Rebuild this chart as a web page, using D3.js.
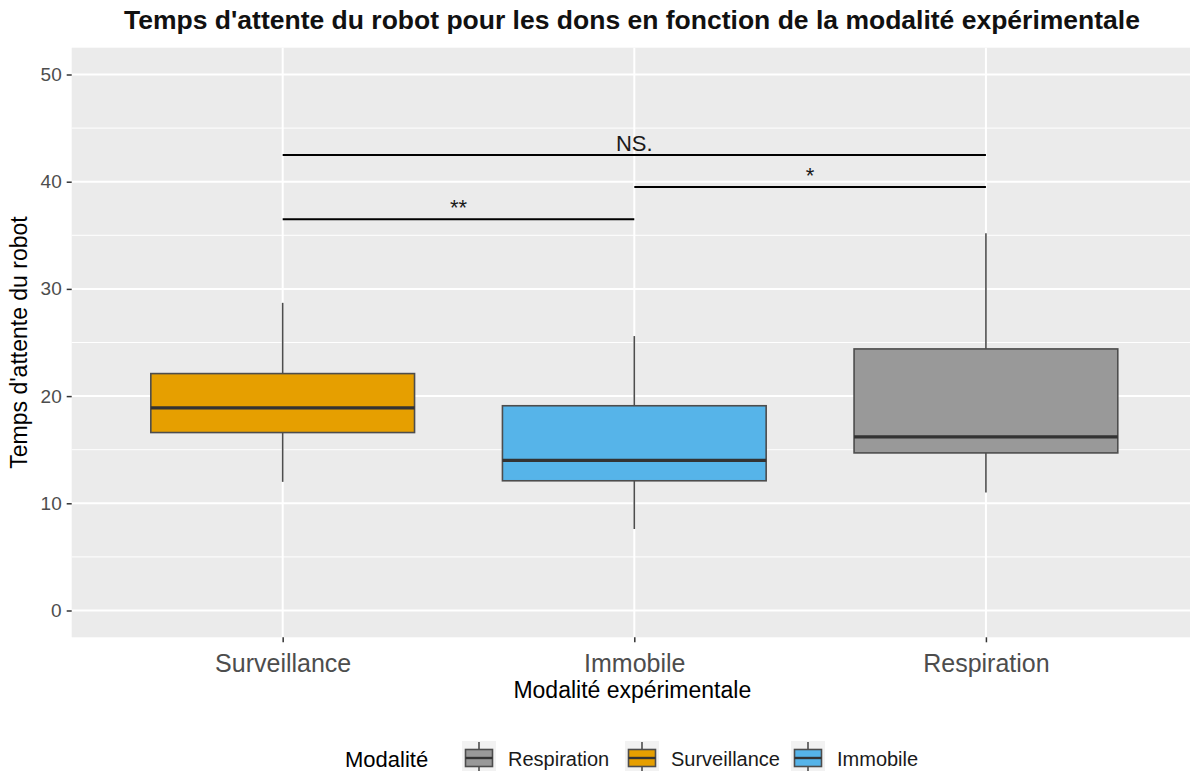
<!DOCTYPE html>
<html>
<head>
<meta charset="utf-8">
<script src="https://cdn.jsdelivr.net/npm/d3@7"></script>
<style>
  body { margin: 0; background: #ffffff; }
  text { font-family: "Liberation Sans", Arial, sans-serif; }
</style>
</head>
<body>
<svg id="chart" width="1190" height="771"></svg>
<script>
// Box statistics per experimental condition (waiting time of the robot)
const categories   = ["Surveillance", "Immobile", "Respiration"];
const fillColors   = ["#E69F00", "#56B4E9", "#999999"];
const whiskerLow   = [12.0, 7.6, 11.0];
const quartile1    = [16.6, 12.1, 14.7];
const medians      = [18.9, 14.0, 16.2];
const quartile3    = [22.1, 19.1, 24.4];
const whiskerHigh  = [28.7, 25.6, 35.2];

// Axis ticks
const yMajorTicks = [0, 10, 20, 30, 40, 50];
const yMinorTicks = [5, 15, 25, 35, 45];

// Pairwise comparisons drawn above the boxes
const compFrom   = ["Surveillance", "Immobile", "Surveillance"];
const compTo     = ["Immobile", "Respiration", "Respiration"];
const compY      = [36.5, 39.5, 42.5];
const compLabel  = ["**", "*", "NS."];

// Legend entries, in the order they are listed
const legendOrder = ["Respiration", "Surveillance", "Immobile"];

const svg = d3.select("#chart");
const panel = { left: 71.7, right: 1196.9, top: 47.7, bottom: 637.3 };

const x = d3.scalePoint()
  .domain(categories)
  .range([panel.left, panel.right])
  .padding(0.6);

const y = d3.scaleLinear()
  .domain([-2.5, 52.5])
  .range([panel.bottom, panel.top]);

const colorOf = d3.scaleOrdinal().domain(categories).range(fillColors);
const boxWidth = x.step() * 0.75;

// Panel background
svg.append("rect")
  .attr("x", panel.left).attr("y", panel.top)
  .attr("width", panel.right - panel.left)
  .attr("height", panel.bottom - panel.top)
  .attr("fill", "#ebebeb");

// Grid lines
const grid = svg.append("g");
grid.selectAll(".minor").data(yMinorTicks).join("line")
  .attr("x1", panel.left).attr("x2", panel.right)
  .attr("y1", d => y(d)).attr("y2", d => y(d))
  .attr("stroke", "#ffffff").attr("stroke-width", 1);
grid.selectAll(".major").data(yMajorTicks).join("line")
  .attr("x1", panel.left).attr("x2", panel.right)
  .attr("y1", d => y(d)).attr("y2", d => y(d))
  .attr("stroke", "#ffffff").attr("stroke-width", 2);
grid.selectAll(".vmajor").data(categories).join("line")
  .attr("x1", d => x(d)).attr("x2", d => x(d))
  .attr("y1", panel.top).attr("y2", panel.bottom)
  .attr("stroke", "#ffffff").attr("stroke-width", 2);

// Boxplots
const boxes = svg.append("g")
  .selectAll("g")
  .data(categories.map((c, i) => ({
    cat: c, lo: whiskerLow[i], q1: quartile1[i], med: medians[i],
    q3: quartile3[i], hi: whiskerHigh[i]
  })))
  .join("g");

boxes.append("line")
  .attr("x1", d => x(d.cat)).attr("x2", d => x(d.cat))
  .attr("y1", d => y(d.hi)).attr("y2", d => y(d.q3))
  .attr("stroke", "#4d4d4d").attr("stroke-width", 1.6);
boxes.append("line")
  .attr("x1", d => x(d.cat)).attr("x2", d => x(d.cat))
  .attr("y1", d => y(d.q1)).attr("y2", d => y(d.lo))
  .attr("stroke", "#4d4d4d").attr("stroke-width", 1.6);
boxes.append("rect")
  .attr("x", d => x(d.cat) - boxWidth / 2)
  .attr("width", boxWidth)
  .attr("y", d => y(d.q3))
  .attr("height", d => y(d.q1) - y(d.q3))
  .attr("fill", d => colorOf(d.cat))
  .attr("stroke", "#4d4d4d").attr("stroke-width", 1.6);
boxes.append("line")
  .attr("x1", d => x(d.cat) - boxWidth / 2).attr("x2", d => x(d.cat) + boxWidth / 2)
  .attr("y1", d => y(d.med)).attr("y2", d => y(d.med))
  .attr("stroke", "#333333").attr("stroke-width", 3.2);

// Significance brackets
const comps = compLabel.map((l, i) => ({ a: compFrom[i], b: compTo[i], v: compY[i], label: l }));
const sig = svg.append("g").selectAll("g").data(comps).join("g");
sig.append("line")
  .attr("x1", d => x(d.a)).attr("x2", d => x(d.b))
  .attr("y1", d => y(d.v)).attr("y2", d => y(d.v))
  .attr("stroke", "#000000").attr("stroke-width", 2);
sig.append("text")
  .attr("x", d => (x(d.a) + x(d.b)) / 2)
  .attr("y", d => y(d.v) - 4)
  .attr("text-anchor", "middle")
  .attr("font-size", 22)
  .attr("fill", "#1a1a1a")
  .text(d => d.label);

// Y axis
const yAxis = svg.append("g")
  .attr("transform", `translate(${panel.left},0)`)
  .call(d3.axisLeft(y).tickValues(yMajorTicks).tickSize(5).tickPadding(5));
yAxis.select(".domain").remove();
yAxis.selectAll(".tick line").attr("stroke", "#333333").attr("stroke-width", 1.5);
yAxis.selectAll(".tick text")
  .attr("fill", "#4d4d4d").attr("font-size", 19)
  .style("font-family", "'Liberation Sans', Arial, sans-serif");

// X axis
const xAxis = svg.append("g")
  .attr("transform", `translate(0,${panel.bottom})`)
  .call(d3.axisBottom(x).tickSize(5).tickPadding(12));
xAxis.select(".domain").remove();
xAxis.selectAll(".tick line").attr("stroke", "#333333").attr("stroke-width", 1.5);
xAxis.selectAll(".tick text")
  .attr("fill", "#4d4d4d").attr("font-size", 25)
  .style("font-family", "'Liberation Sans', Arial, sans-serif");

// Axis titles
svg.append("text")
  .attr("x", (panel.left + panel.right) / 2 - 2)
  .attr("y", 698)
  .attr("text-anchor", "middle")
  .attr("font-size", 23)
  .attr("fill", "#000000")
  .text("Modalité expérimentale");

svg.append("text")
  .attr("transform", `translate(27,${(panel.top + panel.bottom) / 2}) rotate(-90)`)
  .attr("text-anchor", "middle")
  .attr("font-size", 23)
  .attr("fill", "#000000")
  .text("Temps d'attente du robot");

// Title
svg.append("text")
  .attr("x", 632)
  .attr("y", 29)
  .attr("text-anchor", "middle")
  .attr("font-size", 26.5)
  .attr("font-weight", "bold")
  .attr("fill", "#111111")
  .text("Temps d'attente du robot pour les dons en fonction de la modalité expérimentale");

// Legend
const legend = svg.append("g");
legend.append("text")
  .attr("x", 345).attr("y", 767)
  .attr("font-size", 22)
  .attr("fill", "#000000")
  .text("Modalité");

const keyX = [462, 625, 791];
const keySize = 34;
const keyTop = 741;
const keys = legend.selectAll(".key").data(legendOrder).join("g")
  .attr("transform", (d, i) => `translate(${keyX[i]},${keyTop})`);
keys.append("rect")
  .attr("width", keySize).attr("height", keySize)
  .attr("fill", "#f2f2f2");
keys.append("line")
  .attr("x1", keySize / 2).attr("x2", keySize / 2)
  .attr("y1", 1).attr("y2", keySize - 1)
  .attr("stroke", "#4d4d4d").attr("stroke-width", 1.6);
keys.append("rect")
  .attr("x", 3.5).attr("y", 8.5)
  .attr("width", keySize - 7).attr("height", keySize - 17)
  .attr("fill", d => colorOf(d))
  .attr("stroke", "#4d4d4d").attr("stroke-width", 1.6);
keys.append("line")
  .attr("x1", 3.5).attr("x2", keySize - 3.5)
  .attr("y1", keySize / 2).attr("y2", keySize / 2)
  .attr("stroke", "#333333").attr("stroke-width", 2.4);
keys.append("text")
  .attr("x", keySize + 12).attr("y", 25)
  .attr("font-size", 20)
  .attr("fill", "#1a1a1a")
  .text(d => d);
</script>
</body>
</html>
